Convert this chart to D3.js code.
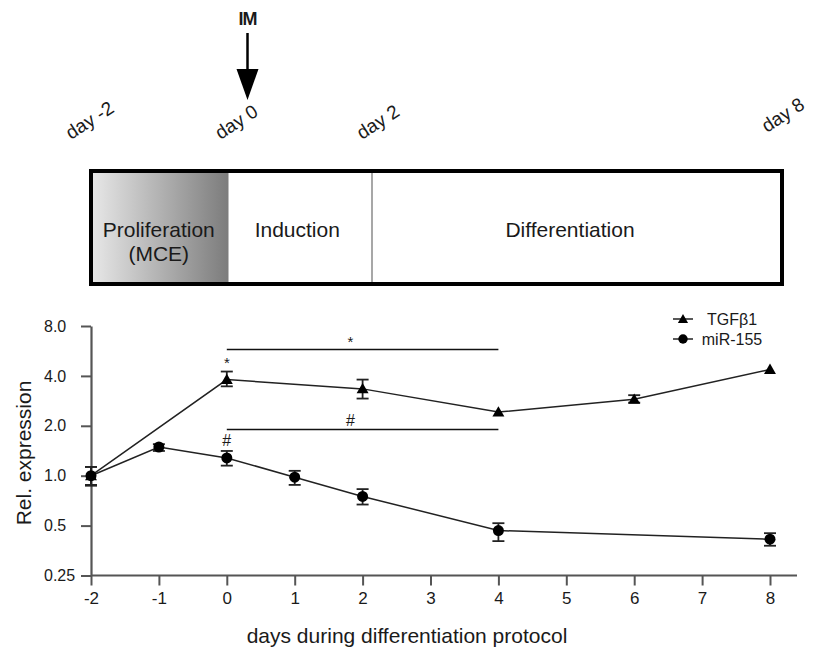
<!DOCTYPE html>
<html>
<head>
<meta charset="utf-8">
<script src="https://cdn.jsdelivr.net/npm/d3@7"></script>
<style>
  body { margin: 0; background: #fff; }
  text { font-family: "Liberation Sans", Arial, sans-serif; fill: #1a1a1a; }
</style>
</head>
<body>
<div id="container"></div>
<script>
/* CONSTANTS AND GLOBALS */
const width = 814;
const height = 650;

/* DATA */
// timeline schematic
const phaseDays = [-2, 0, 2, 8];
const phaseNames = [["Proliferation", "(MCE)"], ["Induction"], ["Differentiation"]];
const dayLabels = ["day -2", "day 0", "day 2", "day 8"];

// TGFb1 relative expression (mean, lower and upper error)
const tgfDays = [-2, 0, 2, 4, 6, 8];
const tgfMean = [1.0, 3.8, 3.34, 2.42, 2.89, 4.37];
const tgfLow  = [0.87, 3.46, 2.92, 2.42, 2.76, 4.37];
const tgfHigh = [1.13, 4.25, 3.8, 2.42, 3.06, 4.37];

// miR-155 relative expression
const mirDays = [-2, -1, 0, 1, 2, 4, 8];
const mirMean = [1.0, 1.49, 1.28, 0.98, 0.75, 0.467, 0.414];
const mirLow  = [0.88, 1.41, 1.15, 0.88, 0.67, 0.403, 0.378];
const mirHigh = [1.13, 1.55, 1.41, 1.07, 0.83, 0.517, 0.45];

const xTicks = [-2, -1, 0, 1, 2, 3, 4, 5, 6, 7, 8];
const yTicks = [0.25, 0.5, 1, 2, 4, 8];
const yTickLabels = ["0.25", "0.5", "1.0", "2.0", "4.0", "8.0"];

const svg = d3.select("#container")
  .append("svg")
  .attr("width", width)
  .attr("height", height);

/* TIMELINE */
const xb = d3.scaleLinear()
  .domain(phaseDays)
  .range([91, 228.5, 372, 782]);

const defs = svg.append("defs");
const grad = defs.append("linearGradient").attr("id", "prolif");
grad.append("stop").attr("offset", "0%").attr("stop-color", "#e8e8e8");
grad.append("stop").attr("offset", "100%").attr("stop-color", "#7c7c7c");

const boxTop = 171, boxBottom = 284;

svg.append("rect")
  .attr("x", xb(-2)).attr("y", boxTop)
  .attr("width", xb(0) - xb(-2)).attr("height", boxBottom - boxTop)
  .attr("fill", "url(#prolif)");

svg.append("line")
  .attr("x1", xb(2)).attr("x2", xb(2))
  .attr("y1", boxTop).attr("y2", boxBottom)
  .attr("stroke", "#8a8a8a").attr("stroke-width", 1.5);

svg.append("rect")
  .attr("x", xb(-2)).attr("y", boxTop)
  .attr("width", xb(8) - xb(-2)).attr("height", boxBottom - boxTop)
  .attr("fill", "none").attr("stroke", "#000").attr("stroke-width", 4);

const phaseShift = [-1, -3, -7];
phaseNames.forEach((lines, i) => {
  const cx = (xb(phaseDays[i]) + xb(phaseDays[i + 1])) / 2 + phaseShift[i];
  const t = svg.append("text")
    .attr("x", cx).attr("y", 237)
    .attr("text-anchor", "middle")
    .attr("font-size", 21);
  lines.forEach((s, j) => t.append("tspan").attr("x", cx).attr("dy", j ? 24 : 0).text(s));
});

// rotated day labels
const labelOffset = [-20, -8, -10, -15];
phaseDays.forEach((d, i) => {
  const lx = xb(d) + labelOffset[i];
  const ly = i === 3 ? 133 : 140;
  svg.append("text")
    .attr("transform", `translate(${lx},${ly}) rotate(-33)`)
    .attr("font-size", 19)
    .text(dayLabels[i]);
});

// IM arrow
const imX = xb(0) + 19;
svg.append("text")
  .attr("x", imX).attr("y", 25)
  .attr("text-anchor", "middle")
  .attr("font-size", 18).attr("font-weight", "bold")
  .attr("letter-spacing", -1)
  .text("IM");
svg.append("line")
  .attr("x1", imX).attr("x2", imX)
  .attr("y1", 33).attr("y2", 74)
  .attr("stroke", "#000").attr("stroke-width", 2.5);
svg.append("path")
  .attr("d", `M${imX - 11},69 L${imX + 11},69 L${imX},100 Z`)
  .attr("fill", "#000");

/* SCALES */
const xScale = d3.scaleLinear()
  .domain([-2, 8])
  .range([91, 770]);

const yScale = d3.scaleLog()
  .base(2)
  .domain([0.25, 8])
  .range([575.5, 326]);

/* AXES */
const axisColor = "#555";

const xAxis = svg.append("g")
  .attr("transform", `translate(0,${yScale(0.25)})`)
  .call(d3.axisBottom(xScale).tickValues(xTicks).tickFormat(d => String(d))
    .tickSize(10).tickPadding(6).tickSizeOuter(0));
xAxis.select(".domain").remove();
xAxis.append("line")
  .attr("x1", xScale(-2)).attr("x2", 797)
  .attr("stroke", axisColor).attr("stroke-width", 2.2);
xAxis.selectAll(".tick line").attr("stroke", axisColor).attr("stroke-width", 2);
xAxis.selectAll(".tick text")
  .attr("font-size", 17).attr("fill", "#1a1a1a")
  .attr("font-family", "Liberation Sans, Arial, sans-serif");

const yAxis = svg.append("g")
  .attr("transform", `translate(${xScale(-2)},0)`)
  .call(d3.axisLeft(yScale).tickValues(yTicks)
    .tickFormat((d, i) => yTickLabels[i]).tickSize(10).tickSizeOuter(0));
yAxis.select(".domain").attr("stroke", axisColor).attr("stroke-width", 2.2);
yAxis.selectAll(".tick line").attr("stroke", axisColor).attr("stroke-width", 2);
yAxis.selectAll(".tick text")
  .attr("x", -47).attr("text-anchor", "start")
  .attr("font-size", 16).attr("fill", "#1a1a1a")
  .attr("font-family", "Liberation Sans, Arial, sans-serif");

svg.append("text")
  .attr("transform", `translate(31,453) rotate(-90)`)
  .attr("text-anchor", "middle")
  .attr("font-size", 21)
  .text("Rel. expression");

svg.append("text")
  .attr("x", 407).attr("y", 643)
  .attr("text-anchor", "middle")
  .attr("font-size", 21)
  .text("days during differentiation protocol");

/* SIGNIFICANCE BARS */
const sigY = [349.5, 429.5];
const sigMarks = ["*", "#"];
sigY.forEach((yy, i) => {
  svg.append("line")
    .attr("x1", xScale(0)).attr("x2", xScale(4))
    .attr("y1", yy).attr("y2", yy)
    .attr("stroke", "#111").attr("stroke-width", 1.5);
  svg.append("text")
    .attr("x", xScale(1.82)).attr("y", yy - (i ? 4 : 3))
    .attr("text-anchor", "middle")
    .attr("font-size", i ? 16 : 15)
    .text(sigMarks[i]);
});
svg.append("text")
  .attr("x", xScale(0)).attr("y", 368)
  .attr("text-anchor", "middle").attr("font-size", 15).text("*");
svg.append("text")
  .attr("x", xScale(0)).attr("y", 446)
  .attr("text-anchor", "middle").attr("font-size", 16).text("#");

/* SERIES */
const series = [
  { name: "TGFβ1", days: tgfDays, mean: tgfMean, low: tgfLow, high: tgfHigh, symbol: d3.symbolTriangle },
  { name: "miR-155", days: mirDays, mean: mirMean, low: mirLow, high: mirHigh, symbol: d3.symbolCircle }
];

const line = d3.line()
  .x(d => xScale(d.day))
  .y(d => yScale(d.value));

series.forEach(s => {
  const pts = s.days.map((d, i) => ({ day: d, value: s.mean[i], low: s.low[i], high: s.high[i] }));
  const g = svg.append("g");

  g.append("path")
    .datum(pts)
    .attr("d", line)
    .attr("fill", "none")
    .attr("stroke", "#222")
    .attr("stroke-width", 1.5);

  const bars = g.selectAll(".err")
    .data(pts.filter(p => p.high > p.low))
    .join("g");
  bars.append("line")
    .attr("x1", d => xScale(d.day)).attr("x2", d => xScale(d.day))
    .attr("y1", d => yScale(d.low)).attr("y2", d => yScale(d.high))
    .attr("stroke", "#222").attr("stroke-width", 1.8);
  [d => d.low, d => d.high].forEach(f => {
    bars.append("line")
      .attr("x1", d => xScale(d.day) - 6).attr("x2", d => xScale(d.day) + 6)
      .attr("y1", d => yScale(f(d))).attr("y2", d => yScale(f(d)))
      .attr("stroke", "#222").attr("stroke-width", 1.8);
  });

  g.selectAll(".pt")
    .data(pts)
    .join("path")
    .attr("transform", d => `translate(${xScale(d.day)},${yScale(d.value) + (s.symbol === d3.symbolTriangle ? 1 : 0)})`)
    .attr("d", d3.symbol(s.symbol, s.symbol === d3.symbolTriangle ? 62 : 95))
    .attr("fill", "#000");
});

/* LEGEND */
const legend = svg.append("g");
series.forEach((s, i) => {
  const ly = 319 + i * 20;
  legend.append("line")
    .attr("x1", 673).attr("x2", 693)
    .attr("y1", ly).attr("y2", ly)
    .attr("stroke", "#222").attr("stroke-width", 1.5);
  legend.append("path")
    .attr("transform", `translate(683,${ly + (i ? 0 : 1)})`)
    .attr("d", d3.symbol(s.symbol, i ? 70 : 45))
    .attr("fill", "#000");
  legend.append("text")
    .attr("x", 732).attr("y", ly + 6)
    .attr("text-anchor", "middle")
    .attr("font-size", 16)
    .text(s.name);
});
</script>
</body>
</html>
